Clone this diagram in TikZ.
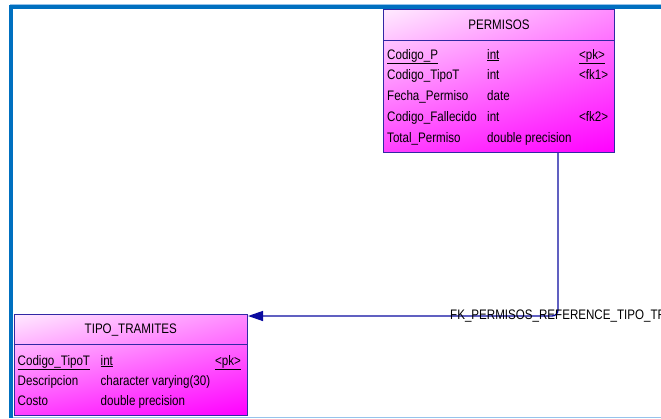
\documentclass[tikz,border=0pt]{standalone}
\usepackage{fontspec}
\setmainfont{Liberation Sans}[FakeStretch=0.84]
\usetikzlibrary{arrows.meta,positioning,shadings}

\definecolor{pdframe}{RGB}{0,112,192}
\definecolor{pdlight}{RGB}{150,195,235}
\definecolor{pdedge}{RGB}{50,40,165}
\definecolor{pdlink}{RGB}{10,10,160}

\tikzset{
  frameline/.style={draw=pdframe, line width=4pt},
  tablebox/.style={draw=pdedge, line width=1pt, anchor=north west, inner sep=0pt,
    upper left=magenta!8, upper right=magenta!45, lower left=magenta!75, lower right=magenta},
  sepline/.style={draw=pdedge, line width=1pt},
  tabletitle/.style={anchor=base, inner sep=0pt, font=\fontsize{13.8}{16}\selectfont},
  cell/.style={anchor=base west, inner sep=0pt, font=\fontsize{13.8}{16}\selectfont},
  fklink/.style={draw=pdlink, line width=1.3pt, rounded corners=6pt,
    -{Triangle[length=15pt,width=10pt]}}
}

\begin{document}
\begin{tikzpicture}[x=1pt,y=-1pt]
\useasboundingbox (0,0) rectangle (661,418);
\clip (0,0) rectangle (661,418);

% window frame
\draw[pdlight, line width=1pt] (10,4.5) -- (661,4.5);
\draw[pdlight, line width=1pt] (13,417.5) -- (661,417.5);
\draw[frameline] (11,418) -- (11,7) -- (661,7);

% PERMISOS
\node[tablebox, minimum width=231pt, minimum height=143pt] (permisos) at (383,9) {};
\draw[sepline] ([yshift=-31.5pt]permisos.north west) -- ([yshift=-31.5pt]permisos.north east);
\node[tabletitle] (permisos-title) at ([yshift=-20pt]permisos.north) {PERMISOS};
\foreach \name/\type/\key [count=\i from 0] in {
    \underline{Codigo\_P}/\underline{int}/\underline{<pk>},
    Codigo\_TipoT/int/<fk1>,
    Fecha\_Permiso/date/{},
    Codigo\_Fallecido/int/<fk2>,
    Total\_Permiso/double precision/{}}
{
  \node[cell] (permisos-n\i) at ([xshift=4pt, yshift={-(50+20.75*\i)*1pt}]permisos.north west) {\name};
  \node[cell] (permisos-t\i) at ([xshift=104pt, yshift={-(50+20.75*\i)*1pt}]permisos.north west) {\type};
  \node[cell] (permisos-k\i) at ([xshift=196pt, yshift={-(50+20.75*\i)*1pt}]permisos.north west) {\key};
}

% TIPO_TRAMITES
\node[tablebox, minimum width=233.5pt, minimum height=101pt] (tipo) at (13.5,313.5) {};
\draw[sepline] ([yshift=-31pt]tipo.north west) -- ([yshift=-31pt]tipo.north east);
\node[tabletitle] (tipo-title) at ([yshift=-19.5pt]tipo.north) {TIPO\_TRAMITES};
\foreach \name/\type/\key [count=\i from 0] in {
    \underline{Codigo\_TipoT}/\underline{int}/\underline{<pk>},
    Descripcion/character varying(30)/{},
    Costo/double precision/{}}
{
  \node[cell] (tipo-n\i) at ([xshift=4pt, yshift={-(51.5+20.2*\i)*1pt}]tipo.north west) {\name};
  \node[cell] (tipo-t\i) at ([xshift=87pt, yshift={-(51.5+20.2*\i)*1pt}]tipo.north west) {\type};
  \node[cell] (tipo-k\i) at ([xshift=201.5pt, yshift={-(51.5+20.2*\i)*1pt}]tipo.north west) {\key};
}

% reference PERMISOS -> TIPO_TRAMITES
\coordinate (fkcorner) at (558,316);
\draw[fklink] (fkcorner |- permisos.south) -- (fkcorner) -- (fkcorner -| tipo.east);
\node[cell] (fk-label) at (450,319.5) {FK\_PERMISOS\_REFERENCE\_TIPO\_TRAMITES};
\end{tikzpicture}
\end{document}
